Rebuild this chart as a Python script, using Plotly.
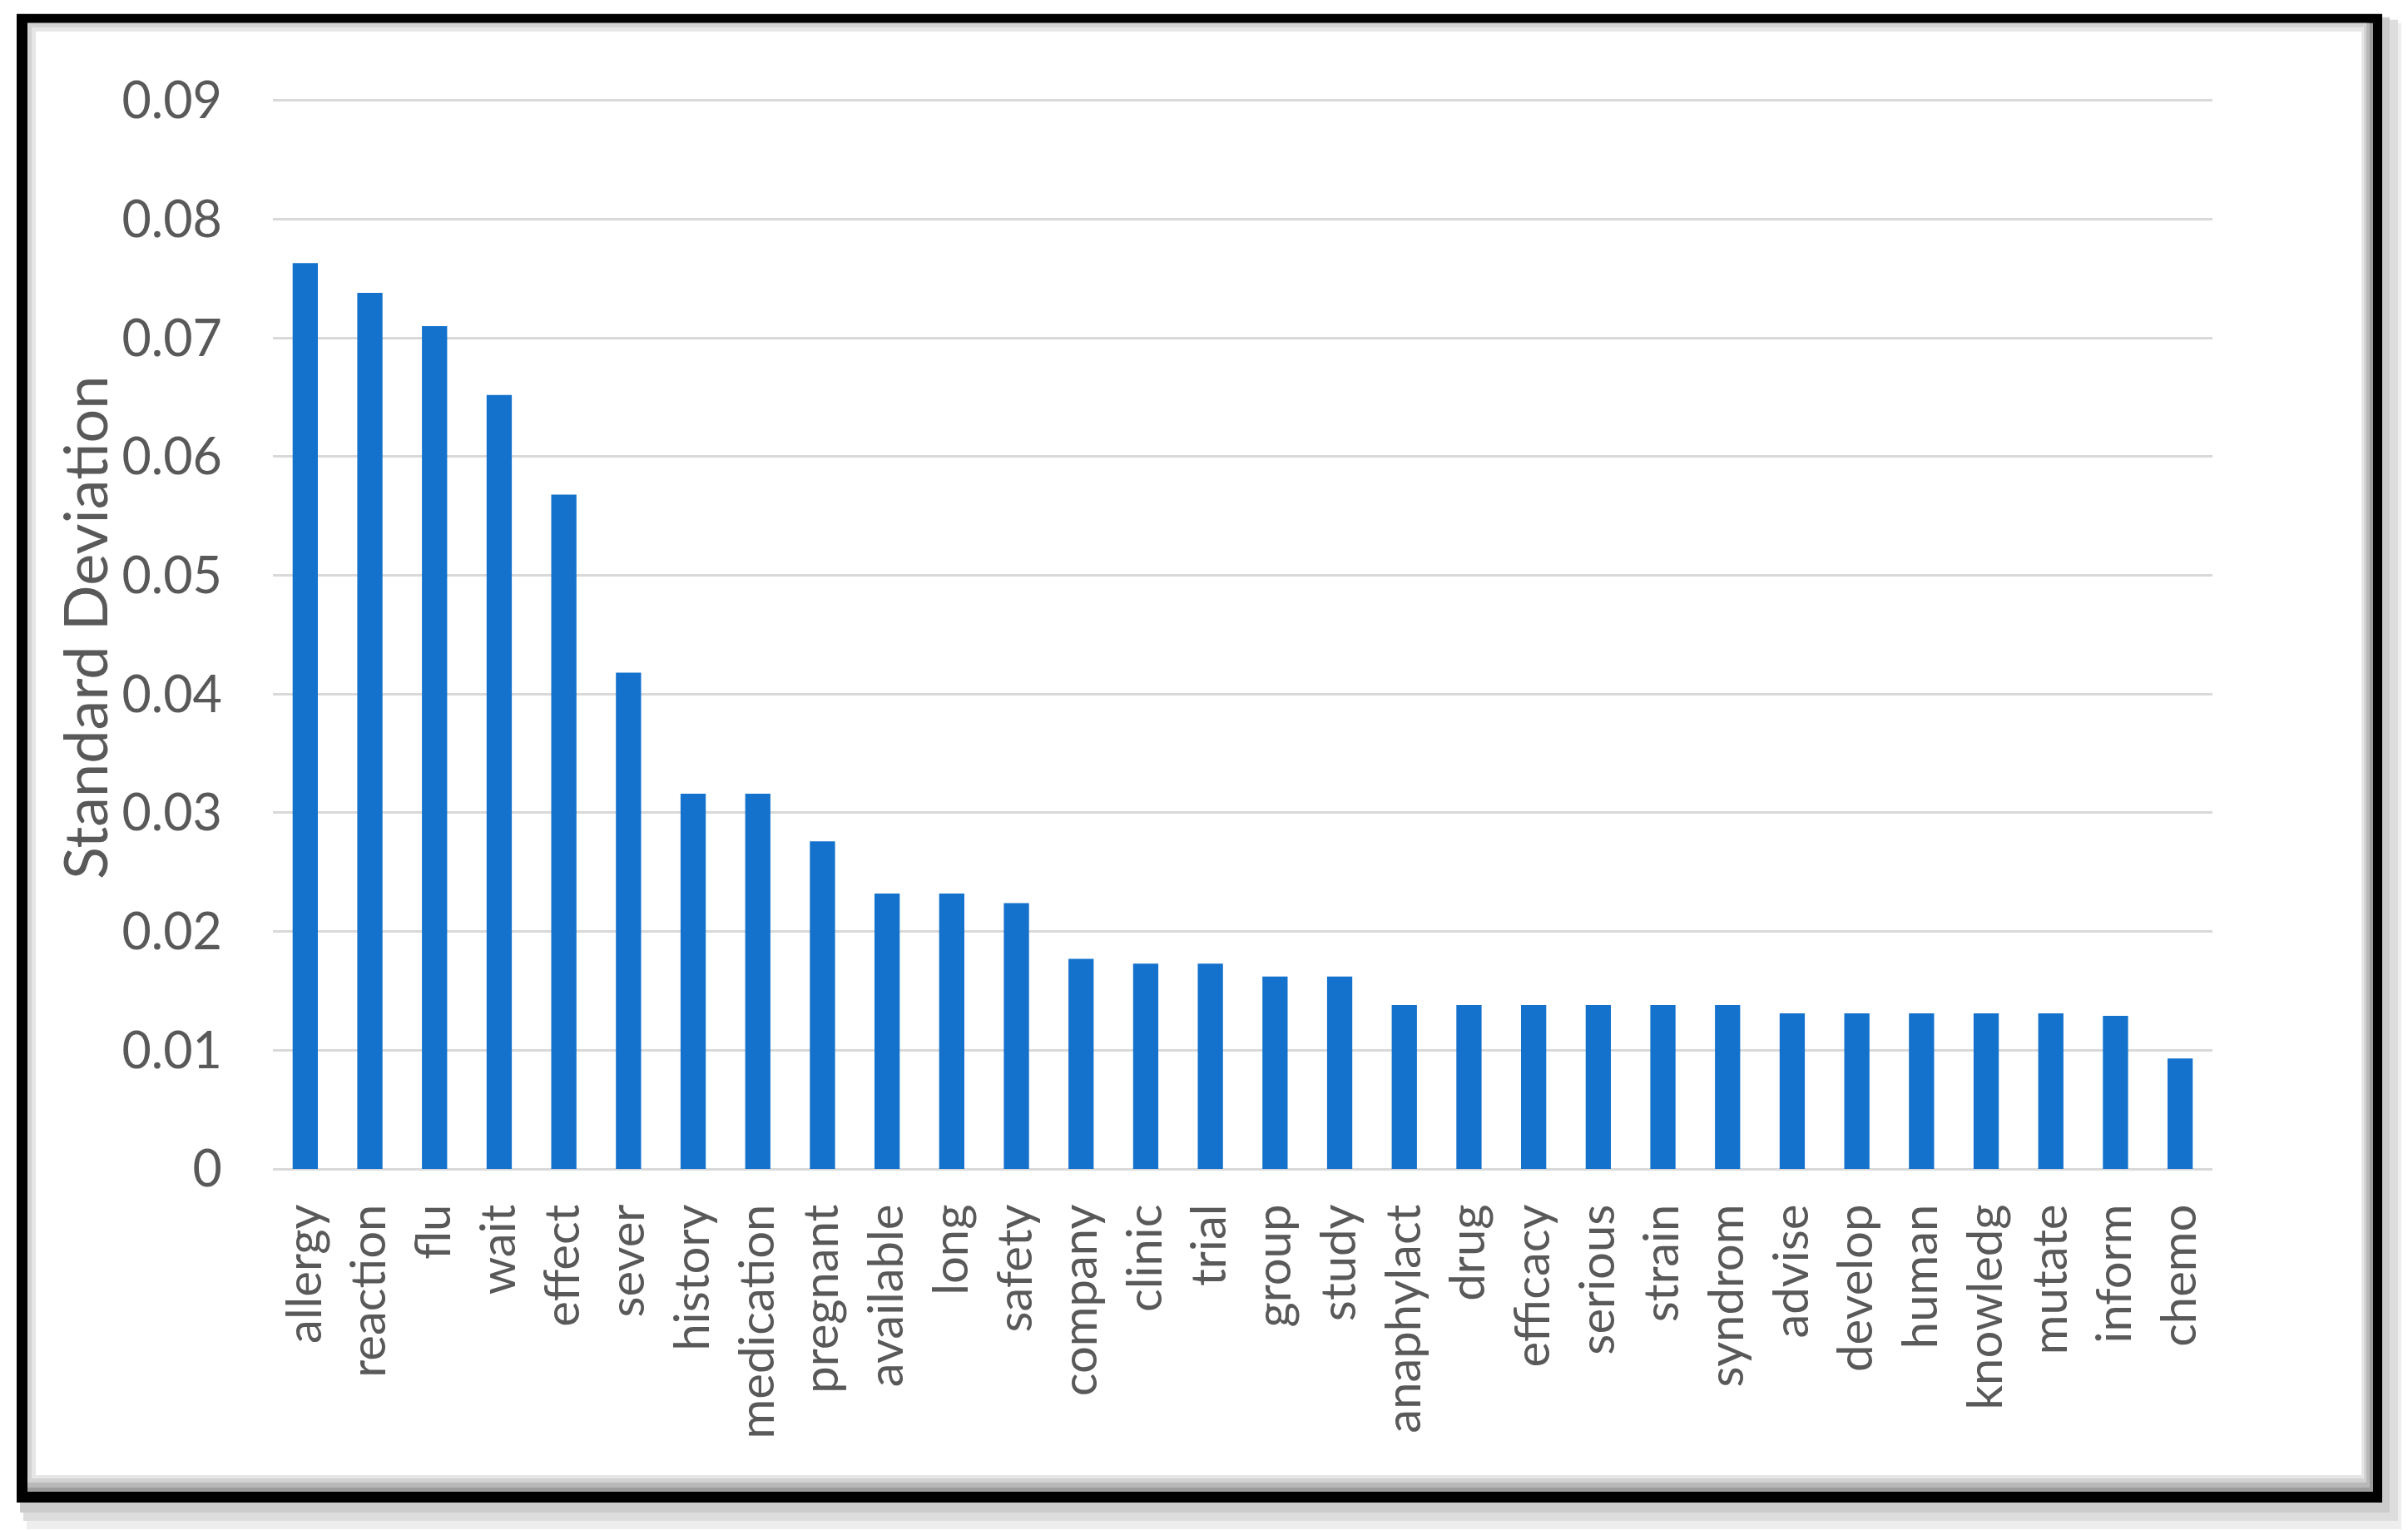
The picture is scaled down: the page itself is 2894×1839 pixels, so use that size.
import plotly.graph_objects as go

categories = ["allergy", "reaction", "flu", "wait", "effect", "sever", "history",
              "medication", "pregnant", "available", "long", "safety", "company",
              "clinic", "trial", "group", "study", "anaphylact", "drug", "efficacy",
              "serious", "strain", "syndrom", "advise", "develop", "human",
              "knowledg", "mutate", "inform", "chemo"]
std_dev = [0.0763, 0.0738, 0.0710, 0.0652, 0.0568, 0.0418, 0.0316,
           0.0316, 0.0276, 0.0232, 0.0232, 0.0224, 0.0177,
           0.0173, 0.0173, 0.0162, 0.0162, 0.0138, 0.0138, 0.0138,
           0.0138, 0.0138, 0.0138, 0.0131, 0.0131, 0.0131,
           0.0131, 0.0131, 0.0129, 0.0093]
y_ticks = [0, 0.01, 0.02, 0.03, 0.04, 0.05, 0.06, 0.07, 0.08, 0.09]
y_tick_text = ["0", "0.01", "0.02", "0.03", "0.04", "0.05", "0.06", "0.07", "0.08", "0.09"]

OFF = 8  # default page body margin
W, H = 2894 - OFF, 1839 - OFF
Y_MAX = 0.0902
L, R = 328 - OFF, 2659 - OFF
B = 1405 - OFF
T = B - (1405 - 121) * Y_MAX / 0.09


def px(x):
    return (x - OFF - L) / (R - L)


def py(y):
    return (B - (y - OFF)) / (B - T)


def rect(x0, y0, x1, y1, color):
    return dict(type="rect", xref="paper", yref="paper",
                x0=px(x0), x1=px(x1), y0=py(y1), y1=py(y0),
                fillcolor=color, line=dict(width=0), layer="below")


FONT = "Lato"
TXT = "#595959"

fig = go.Figure(go.Bar(x=categories, y=std_dev, marker=dict(color="#1572CC", line=dict(width=0))))

shapes = [
    # outer drop shadow
    rect(32, 28, 2892, 1838, "#eeeeee"),
    rect(28, 24, 2882, 1828, "#dddddd"),
    rect(24, 21, 2872, 1818, "#cccccc"),
    # black frame
    rect(20, 17, 2863, 1806, "#000000"),
    # inner bevel
    rect(33, 28, 2852, 1793, "#9c9c9c"),
    rect(33, 28, 2848, 1788, "#b8b8b8"),
    rect(33, 28, 2844, 1782, "#d2d2d2"),
    rect(38, 33, 2841, 1777, "#e6e6e6"),
    # white panel
    rect(43, 38, 2838, 1773, "#ffffff"),
]

fig.update_layout(
    width=W, height=H,
    margin=dict(l=L, r=W - R, t=T, b=H - B, pad=0),
    paper_bgcolor="#ffffff",
    plot_bgcolor="rgba(0,0,0,0)",
    bargap=0.61,
    showlegend=False,
    shapes=shapes,
    font=dict(family=FONT, color=TXT, size=60),
    xaxis=dict(
        type="category", tickangle=-90, showgrid=False, showline=False, zeroline=False,
        ticks="", tickfont=dict(family=FONT, size=58, color=TXT),
        ticklabelstandoff=30, automargin=False,
    ),
    yaxis=dict(
        range=[0, Y_MAX], tickvals=y_ticks, ticktext=y_tick_text,
        showgrid=True, gridcolor="#d9d9d9", gridwidth=3,
        zeroline=True, zerolinecolor="#d9d9d9", zerolinewidth=3,
        showline=False, ticks="", tickfont=dict(family=FONT, size=61, color=TXT),
        ticklabelstandoff=60, automargin=False,
    ),
    annotations=[dict(
        text="Standard Deviation", xref="paper", yref="paper",
        x=px(101), y=py(755), xanchor="center", yanchor="middle",
        textangle=-90, showarrow=False,
        font=dict(family=FONT, size=72, color=TXT),
    )],
)

fig.write_html("out.html")
